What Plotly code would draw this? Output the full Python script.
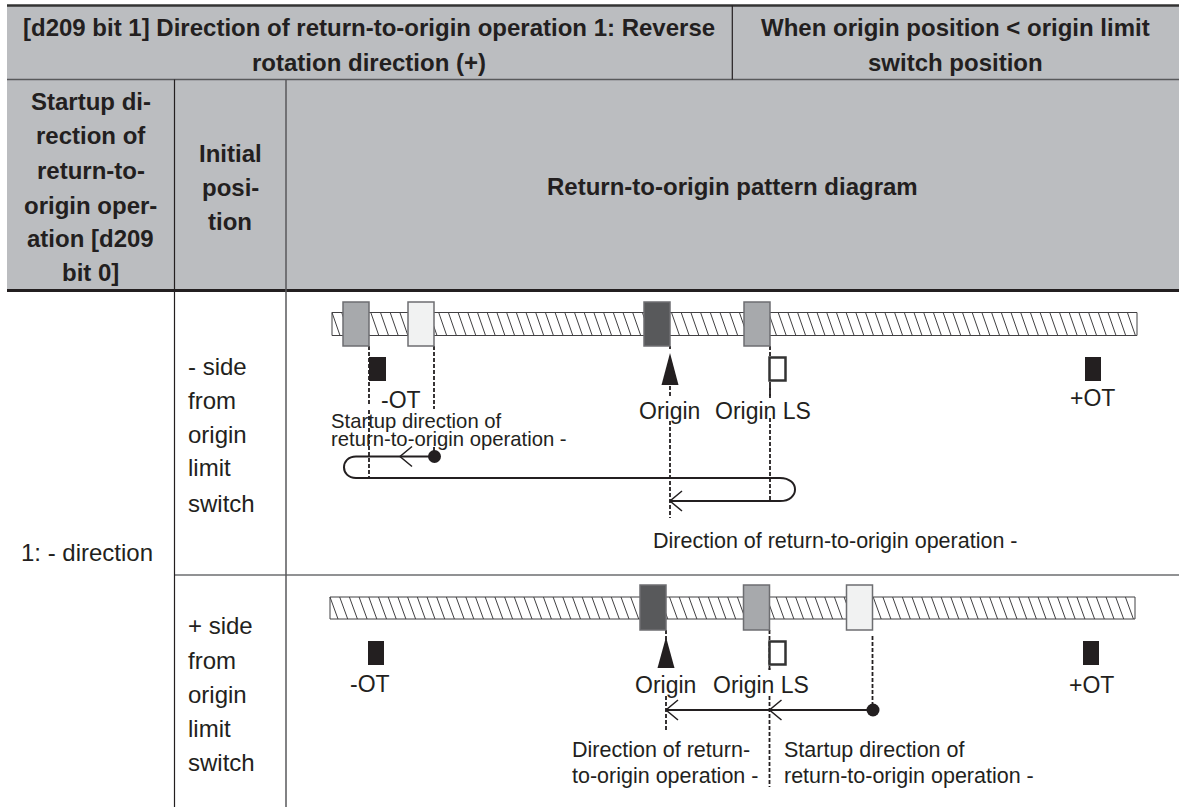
import numpy as np
import plotly.graph_objects as go

FONT = 'Liberation Sans'
INK = '#231f20'
HEAD_FILL = '#bbbdc0'

# table grid
table_left = 7
table_right = 1179
row_lines = [5.5, 79.5, 290.5, 575, 807]
col_lines = [174.5, 286]
head_split = 732.3

# header and body text
head_top = [
    ('[d209 bit 1] Direction of return-to-origin operation 1: Reverse', 369, 27),
    ('rotation direction (+)', 369, 62),
    ('When origin position < origin limit', 955, 27),
    ('switch position', 955, 62),
]
head_col1 = ['Startup di-', 'rection of', 'return-to-', 'origin oper-', 'ation [d209', 'bit 0]']
head_col1_y = [101, 135, 170, 205, 238, 272]
head_col2 = ['Initial', 'posi-', 'tion']
head_col2_y = [153, 187, 221]
head_col3 = 'Return-to-origin pattern diagram'
row_label = '1: - direction'
pos_upper = ['- side', 'from', 'origin', 'limit', 'switch']
pos_upper_y = [366, 400, 434, 467, 503]
pos_lower = ['+ side', 'from', 'origin', 'limit', 'switch']
pos_lower_y = [625, 660, 694, 728, 762]

# upper diagram
screw_a = (332, 1137, 312.5, 335.5)
nuts_a = [(343, 369, '#a7a9ac'), (408, 434, '#f1f2f2'), (644, 670, '#58595b'), (744, 770, '#a7a9ac')]
nut_a_y = (302, 346)
block_a_y = (357, 381)
ot_blocks_a = [(369, 386), (1085, 1101)]
ls_box_a = (769.5, 785.5)
origin_tip_a = (670, 353, 385, 8.5)
dash_a_x = [369, 369, 434, 434, 670, 670, 670, 770, 770, 770]
dash_a_y0 = [346, 410, 346, 447, 346, 386, 421, 346, 386, 418]
dash_a_y1 = [404, 478, 409, 456, 349, 398, 518, 398, 398, 500]
travel_a = 'M 434,456.5 L 356,456.5 C 340,456.5 340,478 356,478 L 780,478 C 800,478 800,501 780,501 L 670,501'
dots_a = ([434.5], [456.5])
heads_a = [(400, 456.5), (670, 501)]

# lower diagram
screw_b = (330, 1135, 597, 619)
nuts_b = [(640, 666, '#58595b'), (743.5, 769.5, '#a7a9ac'), (846.5, 872.5, '#f1f2f2')]
nut_b_y = (585, 630)
block_b_y = (641, 665)
ot_blocks_b = [(368, 384), (1083, 1099)]
ls_box_b = (769.5, 785.5)
origin_tip_b = (666, 637, 668, 8.5)
dash_b_x = [666, 666, 769.5, 769.5, 769.5, 872.5]
dash_b_y0 = [630, 696, 630, 668, 696, 636]
dash_b_y1 = [640, 732, 670, 670, 787, 705]
travel_b = 'M 873,710 L 666,710'
dots_b = ([873], [710])
heads_b = [(666, 710), (769.5, 710)]

labels = [
    ('-OT', 401, 400, 23, 'center'), ('Origin', 669, 411, 23, 'center'), ('Origin LS', 763, 411, 23, 'center'),
    ('+OT', 1092, 398, 23, 'center'),
    ('Startup direction of', 329, 421, 20.3, 'left'), ('return-to-origin operation -', 329, 439, 20.3, 'left'),
    ('Direction of return-to-origin operation -', 651, 541, 21.5, 'left'),
    ('-OT', 370, 684, 23, 'center'), ('Origin', 665, 685, 23, 'center'), ('Origin LS', 761, 685, 23, 'center'),
    ('+OT', 1091, 685, 23, 'center'),
    ('Direction of return-', 570, 750, 21.5, 'left'), ('to-origin operation -', 570, 776, 21.5, 'left'),
    ('Startup direction of', 782, 750, 21.5, 'left'), ('return-to-origin operation -', 782, 776, 21.5, 'left'),
]

fig = go.Figure()


def text(s, x, y, size=24, bold=False, anchor='center'):
    fig.add_annotation(x=x, y=y, text='<b>%s</b>' % s if bold else s, showarrow=False, xanchor=anchor,
                       yanchor='middle', font=dict(family=FONT, size=size, color=INK))


def line(x0, y0, x1, y1, color='#414042', width=1.5):
    fig.add_shape(type='line', x0=x0, y0=y0, x1=x1, y1=y1, line=dict(color=color, width=width))


def rect(x0, y0, x1, y1, fill, edge='#6d6e71', width=1.5):
    fig.add_shape(type='rect', x0=x0, y0=y0, x1=x1, y1=y1, fillcolor=fill, line=dict(color=edge, width=width))


def screw(box):
    left, right, top, bottom = box
    xs, ys = [left, right, right, left, left, None], [top, top, bottom, bottom, top, None]
    for x in np.arange(left, right - 7, 9.7):
        xs += [x, x + 8, None]
        ys += [top, bottom, None]
    fig.add_trace(go.Scatter(x=xs, y=ys, mode='lines', line=dict(color='#414042', width=1)))


def dashes(xs, y0s, y1s):
    px, py = [], []
    for x, a, b in zip(xs, y0s, y1s):
        px += [x, x, None]
        py += [a, b, None]
    fig.add_trace(go.Scatter(x=px, y=py, mode='lines', line=dict(color=INK, width=1.8, dash='4px,2px')))


def diagram(box, nuts, nut_y, block_y, blocks, ls_box, tip, dash, travel, dots, heads):
    screw(box)
    dashes(*dash)
    fig.add_shape(type='path', path=travel, line=dict(color=INK, width=2))
    for x, y in heads:
        fig.add_trace(go.Scatter(x=[x + 12, x, x + 12], y=[y - 10, y, y + 10], mode='lines',
                                 line=dict(color=INK, width=1.5)))
    fig.add_trace(go.Scatter(x=dots[0], y=dots[1], mode='markers', marker=dict(size=13, color=INK)))
    for x0, x1, c in nuts:
        rect(x0, nut_y[0], x1, nut_y[1], c)
    for x0, x1 in blocks:
        rect(x0, block_y[0], x1, block_y[1], INK, INK, 0)
    rect(ls_box[0], block_y[0] + 0.5, ls_box[1], block_y[1] - 0.5, 'white', '#333333', 2.5)
    tx, ty0, ty1, half = tip
    fig.add_shape(type='path', path='M %s,%s L %s,%s L %s,%s Z' % (tx, ty0, tx - half, ty1, tx + half, ty1),
                  fillcolor=INK, line=dict(width=0))


# header fill
fig.add_shape(type='rect', x0=table_left, x1=table_right, y0=row_lines[0], y1=row_lines[2],
              fillcolor=HEAD_FILL, line=dict(width=0), layer='below')

line(table_left, row_lines[0], table_right, row_lines[0], '#333333', 2.5)
line(table_left, row_lines[1], table_right, row_lines[1], '#58595b', 1.5)
line(table_left, row_lines[2], table_right, row_lines[2], '#231f20', 3)
line(col_lines[0], row_lines[3], table_right, row_lines[3], '#6d6e71', 1.5)
line(col_lines[0], row_lines[1], col_lines[0], row_lines[4], '#231f20', 1.2)
line(col_lines[1], row_lines[1], col_lines[1], row_lines[4], '#58595b', 1.5)
line(head_split, row_lines[0], head_split, row_lines[1], '#231f20', 1.2)

for s, x, y in head_top:
    text(s, x, y, bold=True)
for s, y in zip(head_col1, head_col1_y):
    text(s, 90.5, y, bold=True)
for s, y in zip(head_col2, head_col2_y):
    text(s, 230, y, bold=True)
text(head_col3, 732, 186, bold=True)
text(row_label, 19, 552, anchor='left')
for s, y in zip(pos_upper, pos_upper_y):
    text(s, 186, y, anchor='left')
for s, y in zip(pos_lower, pos_lower_y):
    text(s, 186, y, anchor='left')

diagram(screw_a, nuts_a, nut_a_y, block_a_y, ot_blocks_a, ls_box_a, origin_tip_a,
        (dash_a_x, dash_a_y0, dash_a_y1), travel_a, dots_a, heads_a)
diagram(screw_b, nuts_b, nut_b_y, block_b_y, ot_blocks_b, ls_box_b, origin_tip_b,
        (dash_b_x, dash_b_y0, dash_b_y1), travel_b, dots_b, heads_b)

for s, x, y, size, align in labels:
    text(s, x, y, size=size, anchor=align)

fig.update_layout(
    width=1179, height=807, margin=dict(l=0, r=0, t=0, b=0), showlegend=False,
    paper_bgcolor='white', plot_bgcolor='white', hovermode=False,
    xaxis=dict(range=[0, 1179], visible=False, fixedrange=True),
    yaxis=dict(range=[807, 0], visible=False, fixedrange=True),
)
fig.write_html("out.html", config={'displayModeBar': False}, post_script="document.body.style.margin='0';")
